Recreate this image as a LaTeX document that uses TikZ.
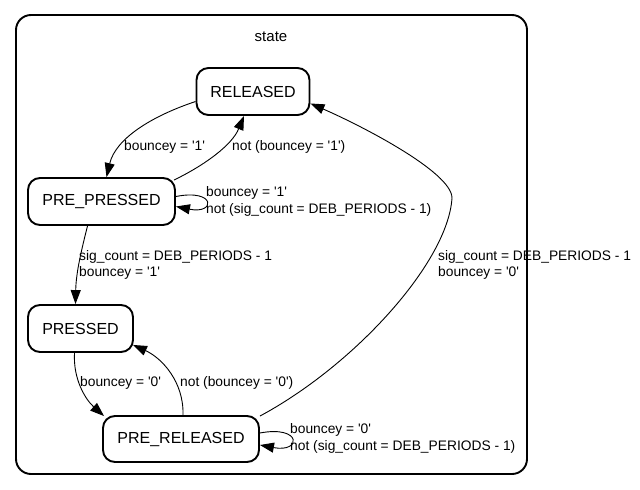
\documentclass[tikz,border=0pt]{standalone}
\usepackage{fontspec}
\setmainfont{Liberation Sans}[Ligatures=TeXOff]
\usetikzlibrary{arrows.meta,calc}
\begin{document}
\begin{tikzpicture}[x=1pt,y=-1pt,
  stbox/.style={draw,rounded corners=12pt,line width=1.9pt,minimum height=47pt,inner sep=0pt,font=\fontsize{16}{19}\selectfont},
  edge/.style={line width=0.9pt,-{Triangle[length=14pt,width=10pt]}},
  lbl/.style={anchor=west,inner sep=0pt,align=left,font=\fontsize{13.8}{16.5}\selectfont}]
\useasboundingbox (0,0) rectangle (640,490);
\draw[line width=1.9pt,rounded corners=15pt] (16,15) rectangle (527,474);
\node[font=\fontsize{15}{18}\selectfont] (title) at (271,37) {state};
\node[stbox,minimum width=113pt] (rel) at (253,91.5) {RELEASED};
\node[stbox,minimum width=147pt] (pp) at (101.5,201.5) {PRE\_PRESSED};
\node[stbox,minimum width=105pt] (pre) at (80.5,328.5) {PRESSED};
\node[stbox,minimum width=156pt,minimum height=46pt] (pr) at (181,439) {PRE\_RELEASED};
% edges
\draw[edge] ($(rel.west)+(0,10)$) .. controls ($(rel.west)+(-45,25)$) and ($(pp.north)+(14,-38)$) .. ($(pp.north)+(5,0)$);
\draw[edge] ($(pp.north east)+(-2,3)$) .. controls (205,165) and (232,145) .. ($(rel.south)+(-9,0)$);
\draw[edge] ($(pp.east)+(0,-5)$) .. controls ($(pp.east)+(40,-13)$) and ($(pp.east)+(40,13)$) .. ($(pp.east)+(0,5)$);
\draw[edge] ($(pp.south)+(-14,0)$) .. controls (82,248) and (76,272) .. ($(pre.north)+(-5,0)$);
\draw[edge] ($(pre.south)+(-6,0)$) .. controls (73,380) and (86,400) .. ($(pr.north west)+(2,1)$);
\draw[edge] ($(pr.north)+(2,0)$) .. controls (184,382) and (162,358) .. ($(pre.south east)+(-1,-8)$);
\coordinate (mid7) at (452,198);
\draw[edge] ($(pr.north east)+(0,1)$) .. controls (355,365) and (448,262) .. (mid7) .. controls (452,172) and (360,125) .. ($(rel.east)+(0,12)$);
\draw[edge] ($(pr.east)+(0,-6)$) .. controls ($(pr.east)+(42,-14)$) and ($(pr.east)+(42,14)$) .. ($(pr.east)+(0,6)$);
% labels
\node[lbl] (l1) at (124,147) {bouncey = '1'};
\node[lbl] (l2) at (232,147) {not (bouncey = '1')};
\node[lbl] (l3) at (206,201.5) {bouncey = '1'\\not (sig\_count = DEB\_PERIODS - 1)};
\node[lbl] (l4) at (79,265) {sig\_count = DEB\_PERIODS - 1\\bouncey = '1'};
\node[lbl] (l7) at (438,265) {sig\_count = DEB\_PERIODS - 1\\bouncey = '0'};
\node[lbl] (l5) at (80,383) {bouncey = '0'};
\node[lbl] (l6) at (180,383) {not (bouncey = '0')};
\node[lbl] (l8) at (290,438.5) {bouncey = '0'\\not (sig\_count = DEB\_PERIODS - 1)};
\end{tikzpicture}
\end{document}
